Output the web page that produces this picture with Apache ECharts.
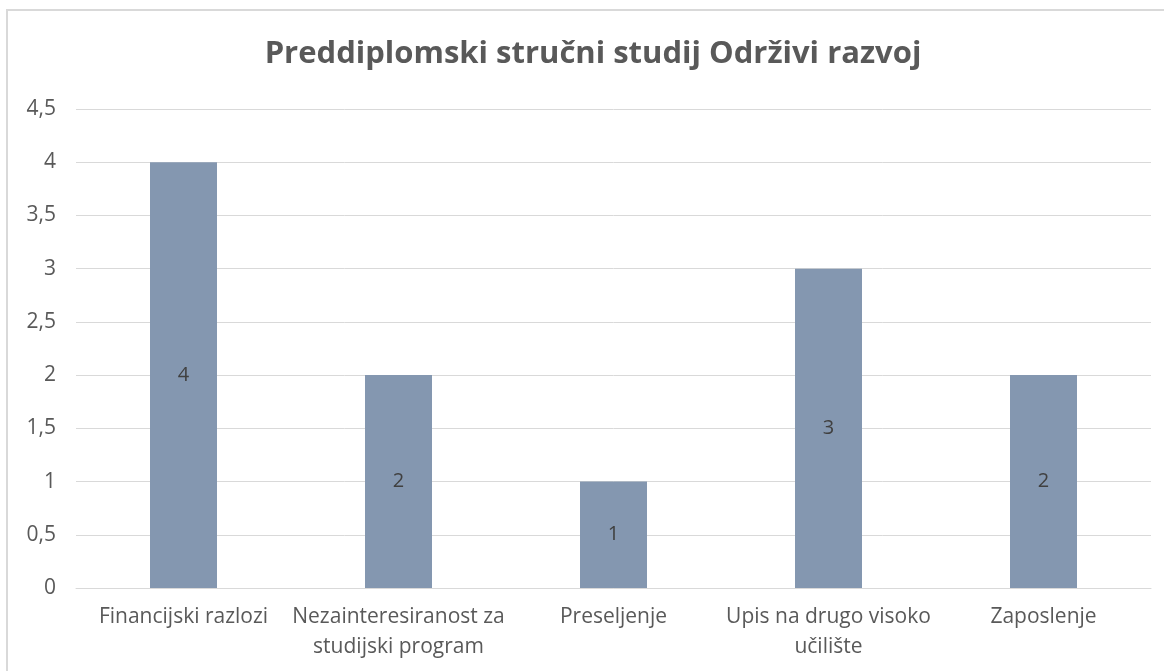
<!DOCTYPE html>
<html>
<head>
<meta charset="utf-8">
<script src="https://cdn.jsdelivr.net/npm/echarts@6/dist/echarts.min.js"></script>
<style>
html, body { margin: 0; padding: 0; background: #fff; overflow: hidden; }
.outer-box {
    position: absolute;
    left: 6px;
    top: 9px;
    width: 1170px;
    height: 680px;
    border: 2px solid #D9D9D9;
    box-sizing: border-box;
}
#chart { position: absolute; left: 0; top: 0; width: 1164px; height: 671px; }
</style>
</head>
<body>
<div class="outer-box"></div>
<div id="chart"></div>
<script>
const categories = [
    'Financijski razlozi',
    'Nezainteresiranost za\nstudijski program',
    'Preseljenje',
    'Upis na drugo visoko\nučilište',
    'Zaposlenje'
]
const values = [4, 2, 1, 3, 2]

const myChart = echarts.init(document.getElementById('chart'))
const option = {
    animation: false,
    title: {
        text: 'Preddiplomski stručni studij Održivi razvoj',
        left: 588,
        textAlign: 'center',
        top: 34,
        textStyle: {
            color: '#595959',
            fontSize: 31,
            fontWeight: 'bold',
            fontFamily: 'Open Sans'
        }
    },
    grid: {
        left: 76,
        right: 13,
        top: 109,
        bottom: 83
    },
    xAxis: {
        type: 'category',
        data: categories,
        axisLine: { lineStyle: { color: '#D9D9D9', width: 1 } },
        axisTick: { show: false },
        axisLabel: {
            color: '#595959',
            fontSize: 21,
            fontFamily: 'Open Sans',
            margin: 14,
            lineHeight: 30,
            interval: 0
        }
    },
    yAxis: {
        type: 'value',
        min: 0,
        max: 4.5,
        interval: 0.5,
        axisLine: { show: false },
        axisTick: { show: false },
        splitLine: { lineStyle: { color: '#D9D9D9', width: 1 } },
        axisLabel: {
            color: '#595959',
            fontSize: 21,
            fontFamily: 'Open Sans',
            margin: 20,
            formatter: function (v) { return String(v).replace('.', ',') }
        }
    },
    series: [{
        type: 'bar',
        data: values,
        barWidth: 67,
        itemStyle: { color: '#8497B0' },
        label: {
            show: true,
            position: 'inside',
            color: '#404040',
            fontSize: 20,
            fontFamily: 'Open Sans'
        }
    }]
}
myChart.setOption(option)
</script>
</body>
</html>
